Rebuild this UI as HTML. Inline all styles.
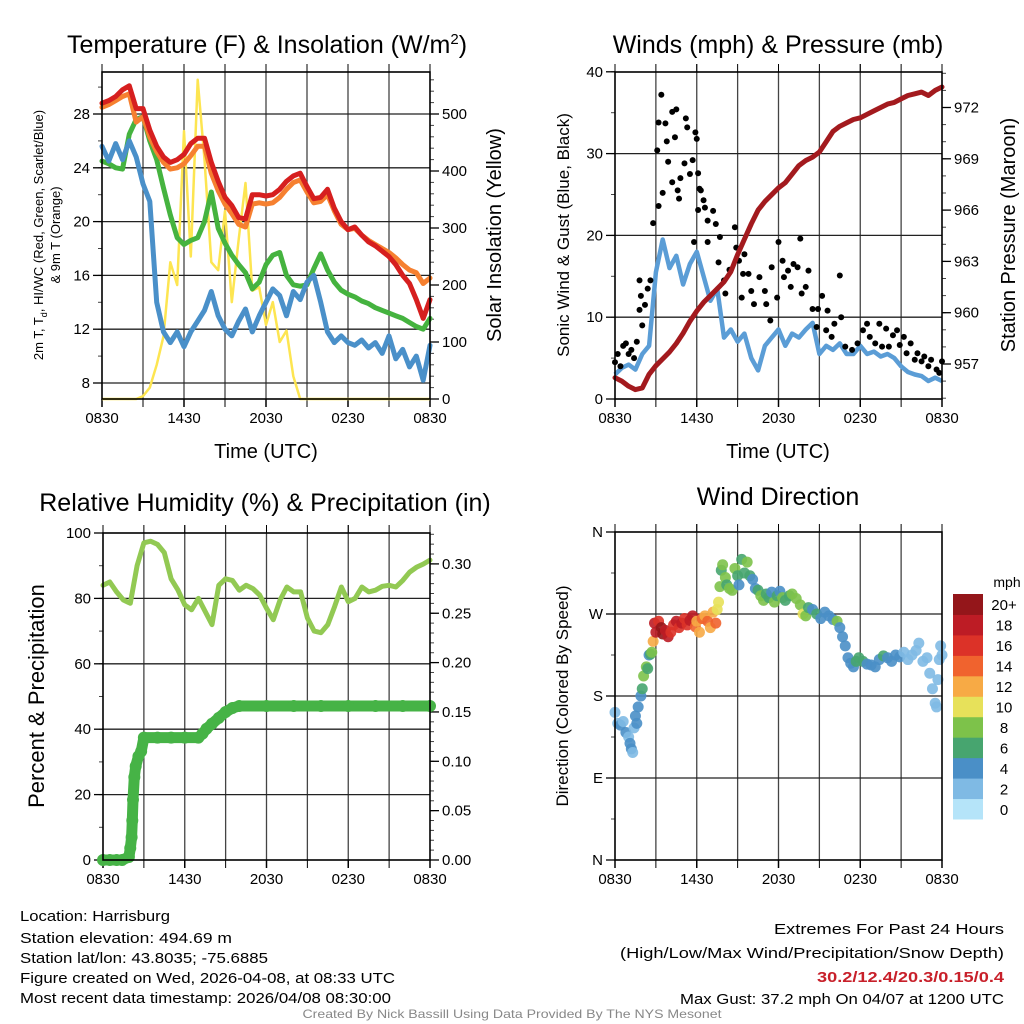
<!DOCTYPE html>
<html><head><meta charset="utf-8"><style>
html,body{margin:0;padding:0;background:#fff;}
svg{display:block;font-family:"Liberation Sans",sans-serif;}
</style></head><body>
<svg id="chart" width="1024" height="1024" viewBox="0 0 1024 1024" xmlns="http://www.w3.org/2000/svg"></svg>
<script>
// ---------- DATA ----------
const hoursHalf = [0,0.5,1,1.5,2,2.5,3,3.5,4,4.5,5,5.5,6,6.5,7,7.5,8,8.5,9,9.5,10,10.5,11,11.5,12,12.5,13,13.5,14,14.5,15,15.5,16,16.5,17,17.5,18,18.5,19,19.5,20,20.5,21,21.5,22,22.5,23,23.5,24];
const xTickLabels = ["0830","1430","2030","0230","0830"];
const xTickHours = [0,6,12,18,24];
const tempRed = [28.8,29.0,29.3,29.8,30.1,28.4,28.4,26.8,25.6,24.8,24.4,24.6,25.0,25.8,26.2,26.2,24.4,23.0,21.8,21.2,20.3,20.2,22.0,22.0,21.9,22.0,22.4,23.0,23.4,23.6,22.6,21.7,21.8,22.4,21.0,20.0,19.4,19.6,19.0,18.5,18.2,17.8,17.4,16.8,16.0,15.4,14.2,12.8,14.2];
const tempOrange = [28.5,28.7,29.0,29.3,29.5,27.4,27.8,26.3,25.2,24.4,23.9,24.0,24.3,24.9,25.6,25.6,23.6,22.3,21.3,20.6,19.8,19.6,21.3,21.4,21.3,21.4,21.8,22.4,22.9,23.1,22.2,21.4,21.5,22.0,20.8,19.8,19.4,19.5,19.0,18.6,18.3,18.0,17.7,17.3,16.8,16.4,16.2,15.4,15.8];
const tempGreen = [24.5,24.3,24.0,23.9,26.5,27.6,27.8,26.0,24.6,22.5,20.5,18.8,18.3,18.6,18.8,20.0,22.2,19.5,18.4,17.5,16.8,16.2,15.0,15.5,16.8,17.5,17.7,16.0,15.3,15.2,15.3,16.5,17.6,16.4,15.5,14.9,14.6,14.4,14.1,13.9,13.6,13.4,13.2,13.0,12.8,12.5,12.2,12.0,12.8];
const tempBlue = [25.6,24.5,25.8,24.6,26.0,24.8,22.8,21.5,14.0,11.8,11.0,11.8,10.7,11.8,12.6,13.4,14.8,13.0,12.0,11.5,12.6,13.5,11.8,13.0,14.0,15.0,14.5,13.0,14.8,14.2,15.5,16.0,14.0,11.8,11.0,11.5,11.0,10.8,11.2,10.6,11.0,10.2,11.5,9.8,10.5,9.2,10.0,8.2,10.8];
const insolation = [0,0,0,0,0,0,5,20,60,110,240,200,470,250,560,420,240,226,330,170,280,379,190,196,130,170,100,120,40,0,0,0,0,0,0,0,0,0,0,0,0,0,0,0,0,0,0,0,0];
const windSpeed = [3.0,3.8,4.2,3.6,5.5,6.5,15.5,19.5,16,17.5,14,16.5,18,15,12,13.5,7.5,8.5,7,8,5,3.5,6.5,7.5,8.5,6.5,8,7.5,8.5,9.3,5.5,6.5,6.0,6.8,5.5,5.5,6.5,5.5,5.8,5.2,5.5,5.0,4.0,3.3,3.0,2.8,2.2,2.6,2.2];
const pressure = [956.2,956.0,955.7,955.5,955.6,956.4,956.9,957.3,957.7,958.2,958.8,959.5,960.1,960.6,961.0,961.4,961.8,962.4,963.4,964.3,965.2,966.0,966.5,966.9,967.3,967.6,968.1,968.6,968.9,969.1,969.4,970.0,970.6,970.9,971.1,971.3,971.4,971.6,971.8,972.0,972.2,972.3,972.5,972.7,972.8,972.9,972.7,973.0,973.2];
const gustHours = [0,0.2,0.4,0.6,0.8,1.0,1.2,1.4,1.6,1.8,1.8,1.9,2.0,2.2,2.4,2.6,2.8,3.1,3.2,3.4,3.2,3.7,3.8,3.5,3.9,4.2,4.5,4.4,4.2,4.6,4.7,4.8,5.2,5.3,5.1,5.5,5.7,5.9,6.0,6.1,6.2,6.1,5.8,6.3,6.5,6.6,6.8,6.8,7.2,7.4,7.7,7.6,8.0,8.1,8.4,8.8,8.9,9.1,9.4,9.5,9.8,10.0,9.3,10.2,10.6,11.0,11.1,11.4,11.5,11.9,12.0,12.3,12.4,12.7,12.9,13.1,13.4,13.6,13.7,14.0,14.2,14.5,14.8,14.9,15.2,15.5,15.6,15.9,16.1,16.5,16.6,16.9,17.4,17.8,18.2,18.5,18.7,19.1,19.4,19.6,19.9,20.1,20.4,20.7,20.9,21.2,21.4,21.7,22.0,22.2,22.5,22.7,23.0,23.2,23.6,24.0,23.8];
const gustSpeed = [4.5,5.5,4.0,6.5,6.8,5.5,6.0,5.0,7.0,14.5,10.9,12.6,9.0,11.5,13.5,14.5,21.5,30.4,23.6,37.2,33.8,33.7,31.5,25.2,29,35.1,35.4,32,26.5,25.5,24.5,27,34.3,33.2,28.8,27.5,29.2,32.6,31.8,27.6,25.7,23.1,19.2,25.5,24.3,23.4,21.8,19.2,23,21.4,19.8,16.7,14.5,12.9,15.8,21,18.5,16.9,15.3,17.7,15.3,13.2,12.4,11.6,14.9,13.2,11.6,9.6,16.1,12.4,19.2,16.9,14.9,15.7,13.7,16.5,16.1,19.6,12.9,13.7,15.7,11.0,8.8,11.0,12.6,8.4,10.8,7.6,9.2,15.1,10.0,6.4,6.0,6.8,8.4,9.2,7.6,6.8,9.2,6.4,8.6,6.4,7.8,8.4,6.6,7.6,5.6,6.8,4.8,5.6,4.6,5.2,4.0,4.8,3.6,4.6,3.2];
const rh = [84,85,82,79.5,78.5,90,97,97.5,96.5,94,86,82.6,78,76.5,80,76,72,84,86,85.5,82.5,84,83,81,77,73.5,79.5,83.5,82,82,74,70,69.5,72,77.5,83.5,79,80,83.5,82,82.5,83.7,84,83.5,85.5,88,89.5,90.5,91.7];
const precipHours = [0,0.5,1.0,1.4,1.9,2.0,2.1,2.15,2.2,2.3,2.4,2.6,2.8,3.0,4,5,6,7,7.3,7.6,8.0,8.5,9.0,9.5,10,12,14,16,18,20,22,24];
const precipIn = [0,0,0,0,0.003,0.012,0.023,0.04,0.061,0.084,0.095,0.105,0.11,0.124,0.124,0.124,0.124,0.124,0.128,0.133,0.138,0.144,0.15,0.154,0.156,0.156,0.156,0.156,0.156,0.156,0.156,0.156];
const dirHours = [0,0.2,0.4,0.6,0.8,1.0,1.1,1.2,1.3,1.4,1.5,1.6,1.7,1.9,2.0,2.1,2.3,2.4,2.5,2.6,2.7,2.8,2.9,3.0,3.2,3.4,3.5,3.7,3.9,4.1,4.3,4.5,4.7,4.9,5.1,5.3,5.5,5.7,5.9,6.0,6.2,6.4,6.6,6.8,7.0,7.2,7.4,7.5,7.6,7.7,7.8,7.9,8.1,8.2,8.4,8.6,8.8,9.0,9.1,9.3,9.5,9.7,9.9,10.1,10.3,10.5,10.7,10.9,11.1,11.3,11.5,11.7,11.9,12.1,12.3,12.5,12.8,13.0,13.3,13.6,13.8,14.0,14.2,14.5,14.8,15.1,15.4,15.7,16.0,16.3,16.5,16.7,16.9,17.1,17.3,17.5,17.7,17.9,18.2,18.5,18.8,19.1,19.4,19.7,20.0,20.3,20.6,20.9,21.2,21.5,21.8,22.1,22.3,22.6,22.9,23.1,23.3,23.5,23.6,23.7,23.8,23.9,24.0];
const dirDeg = [162,150,148,152,140,135,128,122,118,145,158,150,168,180,188,202,212,210,225,226,228,240,260,250,262,255,248,252,245,250,258,262,255,260,265,258,263,268,256,262,250,265,268,262,255,272,260,275,283,300,318,324,310,302,298,296,320,312,302,330,315,327,312,308,298,296,290,285,292,288,294,283,290,295,288,285,290,292,287,280,270,268,277,275,270,265,272,268,264,262,255,245,235,222,216,212,218,222,218,215,214,212,220,224,222,218,225,223,228,220,225,230,238,218,222,205,188,172,168,198,220,235,225];
const dirSpeed = [2,3,4,3,4,3,4,4,2,3,4,4,4,4,6,8,8,6,4,6,8,12,18,18,16,20,20,18,19,16,17,18,16,18,17,16,18,18,14,13,12,14,12,14,13,12,14,10,10,8,6,8,8,6,8,8,8,6,4,6,6,8,6,4,4,6,8,8,6,6,4,8,6,4,8,6,6,8,8,8,10,8,6,4,6,4,4,4,4,8,4,4,4,4,4,4,6,6,6,4,4,4,4,6,4,4,4,4,2,2,2,2,2,2,2,2,2,2,2,2,2,2,2];
const cbLabels = ["0","2","4","6","8","10","12","14","16","18","20+"];
const cbColors = ["#b5e4f9","#7fbae4","#4a8fc7","#47a56f","#7dc24a","#e7e15a","#f7aa45","#f0632e","#dc3228","#bd1c25","#94161a"];

// ---------- HELPERS ----------
const svg = document.getElementById('chart');
const NS = 'http://www.w3.org/2000/svg';
function mk(tag, attrs, parent){const e=document.createElementNS(NS,tag);for(const k in attrs)e.setAttribute(k,attrs[k]);(parent||svg).appendChild(e);return e;}
function grp(name){const g=mk('g',{});return g;}
function txt(g,x,y,s,size,anchor,extra){const t=mk('text',Object.assign({x:x,y:y,'font-size':size,'text-anchor':anchor||'middle',fill:'#000'},extra||{}),g);t.textContent=s;return t;}

function xScale(P,h){return P.x0+(P.x1-P.x0)*h/24;}

function frame(P,name){
  const g=grp(name+'-axes');
  for(let h=3;h<24;h+=3){const x=xScale(P,h);const l=mk('line',{x1:x,y1:P.y0,x2:x,y2:P.y1,stroke:'#444','stroke-width':1.3},g);
    mk('line',{x1:x,y1:P.y0,x2:x,y2:P.y0-8,stroke:'#000','stroke-width':1},g);mk('line',{x1:x,y1:P.y1,x2:x,y2:P.y1+8,stroke:'#000','stroke-width':1},g);}
  for(let i=0;i<xTickHours.length;i++){const x=xScale(P,xTickHours[i]);
    mk('line',{x1:x,y1:P.y1,x2:x,y2:P.y1+8,stroke:'#000','stroke-width':1.5},g);mk('line',{x1:x,y1:P.y0,x2:x,y2:P.y0-8,stroke:'#000','stroke-width':1},g);
    const t=txt(g,x,P.y1+24,xTickLabels[i],15);}
  return g;
}
function border(P,g){const r=mk('rect',{x:P.x0,y:P.y0,width:P.x1-P.x0,height:P.y1-P.y0,fill:'none',stroke:'#000','stroke-width':1.6},g);}
function hgrid(P,g,ys){ys.forEach(y=>{const l=mk('line',{x1:P.x0,y1:y,x2:P.x1,y2:y,stroke:'#222','stroke-width':1.3},g);});}
function yTicks(P,g,side,vals,minors,fy,labelFn){
  const xa=side==='left'?P.x0:P.x1, dir=side==='left'?-1:1;
  minors.forEach(v=>{const y=fy(v);if(y<P.y0-0.5||y>P.y1+0.5)return;mk('line',{x1:xa,y1:y,x2:xa+dir*4,y2:y,stroke:'#444','stroke-width':1},g);});
  vals.forEach(v=>{const y=fy(v);mk('line',{x1:xa,y1:y,x2:xa+dir*9,y2:y,stroke:'#000','stroke-width':1.3},g);
    const t=txt(g,xa+dir*12,y+5,labelFn(v),15,side==='left'?'end':'start');});
}
function pathFrom(xs,ys){return xs.map((x,i)=>(i?'L':'M')+x.toFixed(1)+' '+ys[i].toFixed(1)).join(' ');}
function range(a,b,s){const r=[];for(let v=a;v<=b+1e-9;v+=s)r.push(+v.toFixed(4));return r;}

// ---------- PANEL 1 ----------
const P1={x0:102,x1:430,y0:72,y1:399};
const tY=T=>383-(T-8)*13.45, iY=W=>399-W*0.57;
{
  const g=frame(P1,'temperature');
  hgrid(P1,g,[8,12,16,20,24,28].map(tY));
  yTicks(P1,g,'left',[8,12,16,20,24,28],range(6,30,2),tY,v=>String(v));
  yTicks(P1,g,'right',[0,100,200,300,400,500],range(0,580,20),iY,v=>String(v));
  const xs=hoursHalf.map(h=>xScale(P1,h));
  const yel=mk('path',{d:pathFrom(xs,insolation.map(iY)),fill:'none',stroke:'#fde551','stroke-width':2.5,'stroke-linejoin':'round'});
  
  const series=[[tempGreen,'#45b33f','hiwc-green-line'],[tempBlue,'#4a90c9','dewpoint-blue-line'],[tempOrange,'#f68030','temp-9m-orange-line'],[tempRed,'#d61f1f','temp-2m-red-line']];
  series.forEach(s=>{const p=mk('path',{d:pathFrom(xs,s[0].map(tY)),fill:'none',stroke:s[1],'stroke-width':5,'stroke-linejoin':'round','stroke-linecap':'round'});
    });
  const g2=grp('temperature-frame');border(P1,g2);
  const tt=txt(svg,267,53,'',25);
  tt.innerHTML='Temperature (F) &amp; Insolation (W/m<tspan dy="-9" font-size="15">2</tspan><tspan dy="9">)</tspan>';
  const yl=txt(svg,0,0,'2m T, T',13,'middle',{transform:'translate(43,235) rotate(-90)'});
  yl.innerHTML='2m T, T<tspan dy="4" font-size="9">d</tspan><tspan dy="-4">, HI/WC (Red, Green, Scarlet/Blue)</tspan>';
  const yl2=txt(svg,0,0,'& 9m T (Orange)',13,'middle',{transform:'translate(60,235) rotate(-90)'});
  const yr=txt(svg,0,0,'Solar Insolation (Yellow)',20,'middle',{transform:'translate(501,235) rotate(-90)'});
  const xl=txt(svg,266,458,'Time (UTC)',20);
}

// ---------- PANEL 2 ----------
const P2={x0:615,x1:942,y0:72,y1:399};
const wY=v=>399-8.18*v, pY=p=>364-(p-957)*17.1;
{
  const g=frame(P2,'winds');
  hgrid(P2,g,[10,20,30].map(wY));
  yTicks(P2,g,'left',[0,10,20,30,40],range(0,40,5),wY,v=>String(v));
  yTicks(P2,g,'right',[957,960,963,969,966,972],range(955,974,1),pY,v=>String(v));
  const xs=hoursHalf.map(h=>xScale(P2,h));
  const wl=mk('path',{d:pathFrom(xs,windSpeed.map(wY)),fill:'none',stroke:'#5b9dd6','stroke-width':4.5,'stroke-linejoin':'round'});
  
  const gg=grp('gust-points');
  gustHours.forEach((h,i)=>{const c=mk('circle',{cx:xScale(P2,h),cy:wY(gustSpeed[i]),r:3,fill:'#000'},gg);});
  const pl=mk('path',{d:pathFrom(xs,pressure.map(pY)),fill:'none',stroke:'#a31a1e','stroke-width':5,'stroke-linejoin':'round','stroke-linecap':'round'});
  
  border(P2,grp('winds-frame'));
  const tt=txt(svg,778,53,'Winds (mph) & Pressure (mb)',25);
  const yl=txt(svg,0,0,'Sonic Wind & Gust (Blue, Black)',17,'middle',{transform:'translate(569,235) rotate(-90)'});
  const yr=txt(svg,0,0,'Station Pressure (Maroon)',20,'middle',{transform:'translate(1015,235) rotate(-90)'});
  const xl=txt(svg,778,458,'Time (UTC)',20);
}

// ---------- PANEL 3 ----------
const P3={x0:103,x1:430,y0:533,y1:860};
const rY=v=>860-3.27*v, prY=v=>860-987*v;
{
  const g=frame(P3,'humidity');
  hgrid(P3,g,[20,40,60,80].map(rY));
  yTicks(P3,g,'left',[0,20,40,60,80,100],range(0,100,10),rY,v=>String(v));
  yTicks(P3,g,'right',[0,0.05,0.1,0.15,0.2,0.25,0.3],range(0,0.33,0.01),prY,v=>v.toFixed(2));
  const xs=hoursHalf.map(h=>xScale(P3,h));
  const rl=mk('path',{d:pathFrom(xs,rh.map(rY)),fill:'none',stroke:'#92c953','stroke-width':5,'stroke-linejoin':'round','stroke-linecap':'round'});
  
  const pxs=precipHours.map(h=>xScale(P3,h)), pys=precipIn.map(prY);
  const pl=mk('path',{d:pathFrom(pxs,pys),fill:'none',stroke:'#46b346','stroke-width':11,'stroke-linejoin':'round','stroke-linecap':'round'});
  
  const gp=grp('precip-points');
  pxs.forEach((x,i)=>{const c=mk('circle',{cx:x,cy:pys[i],r:6,fill:'#46b346'},gp);});
  border(P3,grp('humidity-frame'));
  const tt=txt(svg,265,511,'Relative Humidity (%) & Precipitation (in)',25);
  const yl=txt(svg,0,0,'Percent & Precipitation',22,'middle',{transform:'translate(44,696) rotate(-90)'});
}

// ---------- PANEL 4 ----------
const P4={x0:615,x1:942,y0:532,y1:860};
const dY=d=>860-d*328/360;
{
  const g=frame(P4,'wind-direction');
  hgrid(P4,g,[90,180,270].map(dY));
  const dl=['N','E','S','W','N'];
  yTicks(P4,g,'left',[0,90,180,270,360],range(45,315,90),dY,v=>dl[v/90]);
  const gd=grp('direction-points');
  dirHours.forEach((h,i)=>{const idx=Math.min(10,Math.floor(dirSpeed[i]/2));const c=mk('circle',{cx:xScale(P4,h),cy:dY(dirDeg[i]),r:5.5,fill:cbColors[idx],'fill-opacity':0.9},gd);
    });
  border(P4,grp('direction-frame'));
  const tt=txt(svg,778,505,'Wind Direction',25);
  const yl=txt(svg,0,0,'Direction (Colored By Speed)',17,'middle',{transform:'translate(568,696) rotate(-90)'});
  const cb=grp('speed-colorbar');
  const cbTop=594, cbH=225/11;
  cbLabels.forEach((lab,i)=>{const y=cbTop+(10-i)*cbH;const r=mk('rect',{x:953,y:y,width:30,height:cbH+0.5,fill:cbColors[i]},cb);
    const t=txt(cb,1004,y+cbH/2+6,lab,15);});
  const u=txt(cb,1007,587,'mph',14);
}

// ---------- FOOTER ----------
{
  const g=grp('station-info');
  const L=[['Location: Harrisburg',921,150],['Station elevation: 494.69 m',943,212],['Station lat/lon: 43.8035; -75.6885',963,248],['Figure created on Wed, 2026-04-08, at 08:33 UTC',983,375],['Most recent data timestamp: 2026/04/08 08:30:00',1003,371]];
  L.forEach(a=>{const t=txt(g,20,a[1],a[0],15,'start',{textLength:a[2],lengthAdjust:'spacingAndGlyphs'});});
  const g2=grp('extremes-info');
  const R=[['Extremes For Past 24 Hours',934,230,'#000','normal'],['(High/Low/Max Wind/Precipitation/Snow Depth)',958,384,'#000','normal'],['30.2/12.4/20.3/0.15/0.4',982,187,'#c8202a','bold'],['Max Gust: 37.2 mph On 04/07 at 1200 UTC',1004,324,'#000','normal']];
  R.forEach(a=>{const t=txt(g2,1004,a[1],a[0],15,'end',{textLength:a[2],lengthAdjust:'spacingAndGlyphs',fill:a[3],'font-weight':a[4]});});
  const c=txt(svg,512,1018,'Created By Nick Bassill Using Data Provided By The NYS Mesonet',12,'middle',{fill:'#888',textLength:419,lengthAdjust:'spacingAndGlyphs'});
  
  
}
</script>
</body></html>
